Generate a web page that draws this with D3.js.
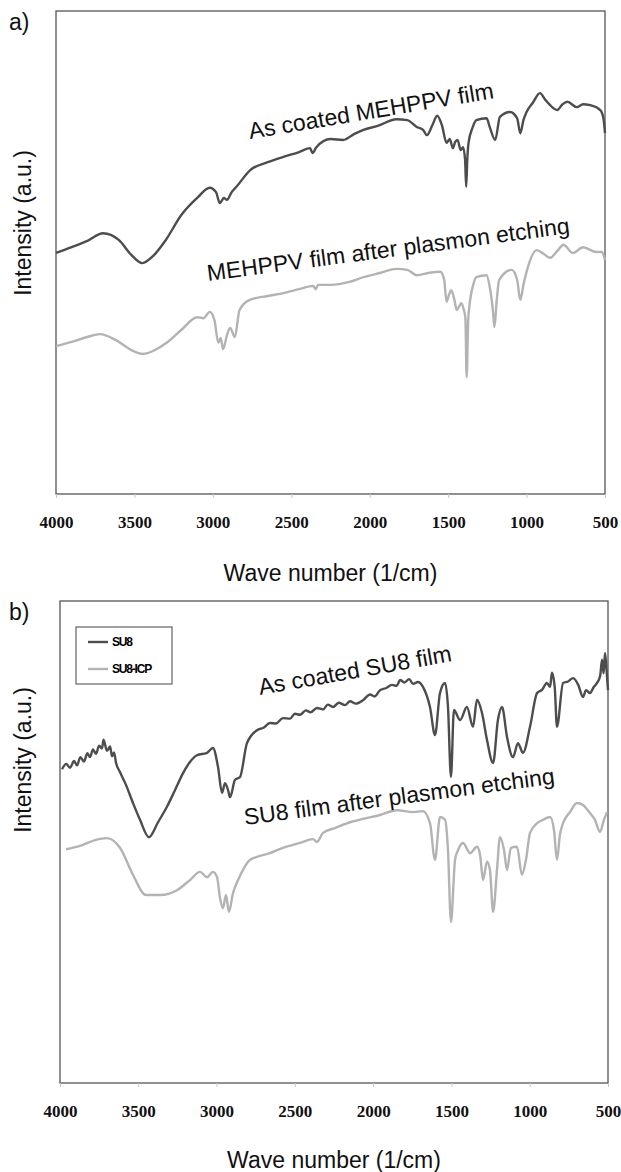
<!DOCTYPE html>
<html>
<head>
<meta charset="utf-8">
<script src="https://cdn.jsdelivr.net/npm/d3@7"></script>
<style>
  body { margin: 0; background: #fff; }
  svg { display: block; }
  .ax-lbl { font-family: "Liberation Sans", Arial, sans-serif; font-size: 23px; fill: #111; }
  .note { font-family: "Liberation Sans", Arial, sans-serif; font-size: 23px; fill: #111; }
</style>
</head>
<body>
<div id="chart"></div>
<script>
// tick labels on wave number axis
const xTicks = [4000, 3500, 3000, 2500, 2000, 1500, 1000, 500];

// panel a) : [wave number, intensity a.u.]
const mehppvCoated = [
  [4000, 49.9], [3900, 51.1], [3800, 52.4], [3700, 54.0], [3600, 52.6], [3520, 49.5],
  [3450, 47.8], [3380, 49.3], [3300, 52.6], [3200, 57.8], [3100, 61.3], [3020, 63.4],
  [2980, 62.5], [2955, 60.2], [2930, 61.3], [2910, 60.9], [2880, 62.5], [2850, 63.6],
  [2760, 67.1], [2650, 68.7], [2550, 69.8], [2450, 70.8], [2380, 71.6], [2365, 70.6],
  [2340, 71.8], [2250, 73.5], [2170, 73.3], [2100, 74.5], [2040, 75.4], [1950, 76.2],
  [1830, 77.6], [1760, 77.4], [1700, 76.0], [1660, 75.4], [1635, 74.3], [1600, 76.4],
  [1570, 78.3], [1540, 76.4], [1510, 72.7], [1490, 73.5], [1470, 71.6], [1455, 72.9],
  [1440, 73.3], [1420, 71.2], [1405, 71.8], [1392, 69.2], [1385, 63.6], [1378, 69.2],
  [1370, 72.7], [1345, 75.8], [1320, 77.4], [1255, 77.8], [1235, 76.0], [1200, 73.3],
  [1170, 78.1], [1105, 79.1], [1060, 77.8], [1040, 74.7], [1020, 77.4], [1000, 79.1],
  [960, 81.0], [915, 83.0], [880, 81.6], [850, 80.5], [805, 79.5], [770, 80.7],
  [740, 81.2], [680, 80.1], [640, 80.7], [595, 80.5], [530, 79.5], [510, 77.8], [500, 74.7]
];
const mehppvEtched = [
  [4000, 30.6], [3900, 31.5], [3800, 32.5], [3720, 33.1], [3620, 31.9], [3520, 29.8],
  [3445, 29.0], [3370, 29.8], [3295, 31.3], [3200, 34.0], [3100, 36.6], [3060, 36.4],
  [3020, 37.7], [2990, 36.0], [2965, 31.3], [2950, 32.3], [2935, 30.0], [2910, 32.9],
  [2890, 34.4], [2860, 32.5], [2830, 38.1], [2765, 40.2], [2650, 41.0], [2550, 41.6],
  [2450, 42.4], [2360, 43.1], [2345, 42.4], [2330, 43.3], [2250, 43.3], [2130, 43.9],
  [2040, 44.9], [1930, 45.8], [1830, 46.6], [1760, 46.4], [1700, 45.3], [1620, 45.8],
  [1550, 46.0], [1525, 44.3], [1510, 39.8], [1495, 41.2], [1480, 42.2], [1460, 40.2],
  [1445, 38.1], [1415, 39.5], [1400, 38.1], [1390, 36.4], [1382, 24.2], [1372, 36.0],
  [1365, 38.7], [1340, 43.3], [1320, 44.9], [1255, 45.3], [1235, 42.9], [1215, 38.1],
  [1205, 34.6], [1190, 40.2], [1175, 44.3], [1095, 46.4], [1060, 44.3], [1040, 40.2],
  [1020, 43.3], [1000, 46.0], [935, 50.5], [890, 49.7], [850, 48.9], [800, 50.5],
  [765, 51.6], [705, 49.9], [640, 51.1], [555, 50.1], [520, 50.1], [500, 48.4]
];

// panel b)
const su8Coated = [
  [3987, 65.1], [3960, 66.2], [3936, 65.4], [3910, 66.8], [3891, 65.9], [3870, 67.6],
  [3847, 66.7], [3825, 68.4], [3808, 67.6], [3790, 69.2], [3770, 68.3], [3750, 70.0],
  [3732, 69.4], [3722, 71.2], [3700, 68.9], [3680, 69.8], [3668, 67.8], [3655, 68.6],
  [3642, 66.4], [3617, 64.5], [3578, 61.8],
  [3534, 58.1], [3489, 54.6], [3432, 51.0], [3374, 54.1], [3317, 57.3], [3265, 60.8],
  [3214, 64.3], [3170, 66.6], [3125, 68.0], [3061, 68.5], [3023, 69.5], [2991, 65.6],
  [2965, 60.2], [2946, 62.2], [2927, 60.8], [2914, 59.3], [2882, 62.9], [2850, 63.5],
  [2806, 70.5], [2742, 73.2], [2700, 73.7], [2659, 74.7], [2620, 74.6], [2576, 75.7],
  [2530, 75.6], [2500, 76.6], [2467, 76.4], [2430, 77.3], [2400, 76.9], [2359, 77.8],
  [2320, 77.5], [2290, 78.5], [2256, 78.0], [2220, 78.9], [2180, 78.4], [2148, 79.2],
  [2110, 78.7], [2065, 79.4], [2020, 80.6], [1990, 80.2], [1956, 81.5], [1920, 81.9],
  [1880, 82.6], [1850, 82.4], [1828, 83.6], [1800, 83.1], [1770, 83.8], [1745, 82.8],
  [1715, 83.2], [1682, 82.2], [1637, 78.0], [1605, 72.2], [1573, 80.9], [1541, 83.0],
  [1522, 78.0], [1503, 63.5], [1484, 77.4], [1445, 75.3], [1401, 78.0], [1362, 73.9],
  [1337, 79.5], [1305, 76.8], [1273, 71.2], [1234, 66.4], [1203, 75.3], [1177, 78.0],
  [1145, 71.8], [1107, 67.6], [1075, 70.5], [1043, 68.5], [998, 73.9], [953, 80.9],
  [920, 81.6], [890, 83.0], [870, 82.2], [858, 85.1], [840, 82.0], [826, 73.9],
  [787, 83.0], [755, 83.3], [723, 84.0], [690, 82.6], [660, 80.1], [640, 81.5],
  [615, 80.9], [590, 82.2], [570, 83.0], [550, 84.5], [538, 87.8], [528, 85.0],
  [519, 89.2], [510, 86.0], [500, 81.5]
];
const su8Etched = [
  [3962, 48.5], [3872, 49.2], [3776, 50.4], [3700, 50.8], [3617, 48.8], [3534, 43.2],
  [3451, 39.0], [3361, 39.0], [3253, 40.0], [3170, 42.1], [3106, 43.8], [3061, 42.7],
  [3023, 43.8], [2997, 42.7], [2978, 38.4], [2959, 36.3], [2940, 39.0], [2921, 35.5],
  [2895, 39.4], [2863, 42.1], [2825, 44.6], [2787, 46.3], [2742, 46.9], [2659, 47.7],
  [2576, 48.8], [2467, 49.8], [2384, 50.6], [2359, 50.0], [2320, 51.9], [2244, 52.9],
  [2148, 54.1], [2065, 54.8], [1956, 55.6], [1848, 56.6], [1745, 56.2], [1682, 56.4],
  [1637, 53.9], [1605, 46.3], [1573, 55.2], [1541, 54.6], [1522, 48.3], [1503, 33.4],
  [1477, 46.3], [1458, 48.3], [1426, 49.8], [1381, 47.7], [1337, 49.0], [1317, 47.3],
  [1298, 42.1], [1273, 45.9], [1254, 44.2], [1234, 35.5], [1209, 44.2], [1190, 51.0],
  [1164, 48.3], [1145, 44.2], [1120, 48.8], [1081, 49.0], [1050, 43.2], [1024, 46.3],
  [998, 51.9], [953, 53.9], [915, 54.6], [870, 55.2], [845, 52.5], [826, 46.3],
  [807, 51.5], [787, 53.9], [743, 56.2], [698, 58.1], [660, 57.7], [615, 56.0],
  [583, 54.6], [551, 52.1], [526, 54.6], [506, 56.2]
];

const darkColor = "#4d4d4d";
const lightColor = "#b3b3b3";

const svg = d3.select("#chart").append("svg")
  .attr("width", 621)
  .attr("height", 1172);

function drawPanel(p) {
  const x = d3.scaleLinear().domain([4000, 500]).range([p.left, p.right]);
  const y = d3.scaleLinear().domain([0, 100]).range([p.bottom, p.top]);
  const g = svg.append("g");

  // frame
  g.append("rect")
    .attr("x", p.left).attr("y", p.top)
    .attr("width", p.right - p.left).attr("height", p.bottom - p.top)
    .attr("fill", "none").attr("stroke", "#555").attr("stroke-width", 1.3);

  const xAxis = d3.axisBottom(x).tickValues(xTicks)
    .tickFormat(d3.format("d")).tickSize(4).tickPadding(18);
  const ax = g.append("g")
    .attr("transform", "translate(0," + p.bottom + ")")
    .call(xAxis)
    .attr("font-family", "'Liberation Serif', 'Times New Roman', serif")
    .attr("font-size", 17)
    .attr("font-weight", "bold");
  ax.select(".domain").remove();
  ax.selectAll(".tick line").attr("stroke", "#c8c8c8");
  ax.selectAll(".tick text").attr("fill", "#111");

  const line = d3.line().curve(d3.curveMonotoneX).x(d => x(d[0])).y(d => y(d[1]));
  g.append("path").datum(p.light)
    .attr("d", line).attr("fill", "none")
    .attr("stroke", lightColor).attr("stroke-width", 2.4).attr("stroke-linejoin", "round");
  g.append("path").datum(p.dark)
    .attr("d", line).attr("fill", "none")
    .attr("stroke", darkColor).attr("stroke-width", 2.4).attr("stroke-linejoin", "round");

  p.notes.forEach(n => {
    g.append("text").attr("class", "note")
      .attr("transform", "translate(" + n.x + "," + n.y + ") rotate(" + n.angle + ")")
      .text(n.text);
  });

  g.append("text").attr("class", "ax-lbl")
    .attr("transform", "translate(31," + p.yLabelMid + ") rotate(-90)")
    .attr("text-anchor", "middle")
    .text("Intensity (a.u.)");

  g.append("text").attr("class", "ax-lbl")
    .attr("x", (p.left + p.right) / 2).attr("y", p.xLabelY)
    .attr("text-anchor", "middle")
    .text("Wave number (1/cm)");

  g.append("text").attr("class", "ax-lbl")
    .attr("x", 9).attr("y", p.top + 19)
    .text(p.tag);
  return g;
}

drawPanel({
  left: 56, right: 605, top: 11, bottom: 494, xLabelY: 581, yLabelMid: 223, tag: "a)",
  dark: mehppvCoated, light: mehppvEtched,
  notes: [
    { text: "As coated MEHPPV film", x: 250, y: 139, angle: -9.5 },
    { text: "MEHPPV film after plasmon etching", x: 208, y: 281, angle: -7.5 }
  ]
});

const gb = drawPanel({
  left: 60, right: 608, top: 601, bottom: 1083, xLabelY: 1168, yLabelMid: 760, tag: "b)",
  dark: su8Coated, light: su8Etched,
  notes: [
    { text: "As coated SU8 film", x: 260, y: 695, angle: -10 },
    { text: "SU8 film after plasmon etching", x: 245, y: 825, angle: -7.6 }
  ]
});

// legend
const legend = gb.append("g");
legend.append("rect")
  .attr("x", 76).attr("y", 627).attr("width", 96).attr("height", 57)
  .attr("fill", "#fff").attr("stroke", "#444").attr("stroke-width", 1);
[["SU8", darkColor, 642], ["SU8-ICP", lightColor, 669]].forEach(e => {
  legend.append("line")
    .attr("x1", 88).attr("x2", 108).attr("y1", e[2]).attr("y2", e[2])
    .attr("stroke", e[1]).attr("stroke-width", 2.4);
  legend.append("text")
    .attr("x", 112).attr("y", e[2] + 4)
    .attr("font-family", "Liberation Sans, Arial, sans-serif")
    .attr("font-size", 12).attr("font-weight", "bold")
    .attr("letter-spacing", -1.2)
    .text(e[0]);
});
</script>
</body>
</html>
